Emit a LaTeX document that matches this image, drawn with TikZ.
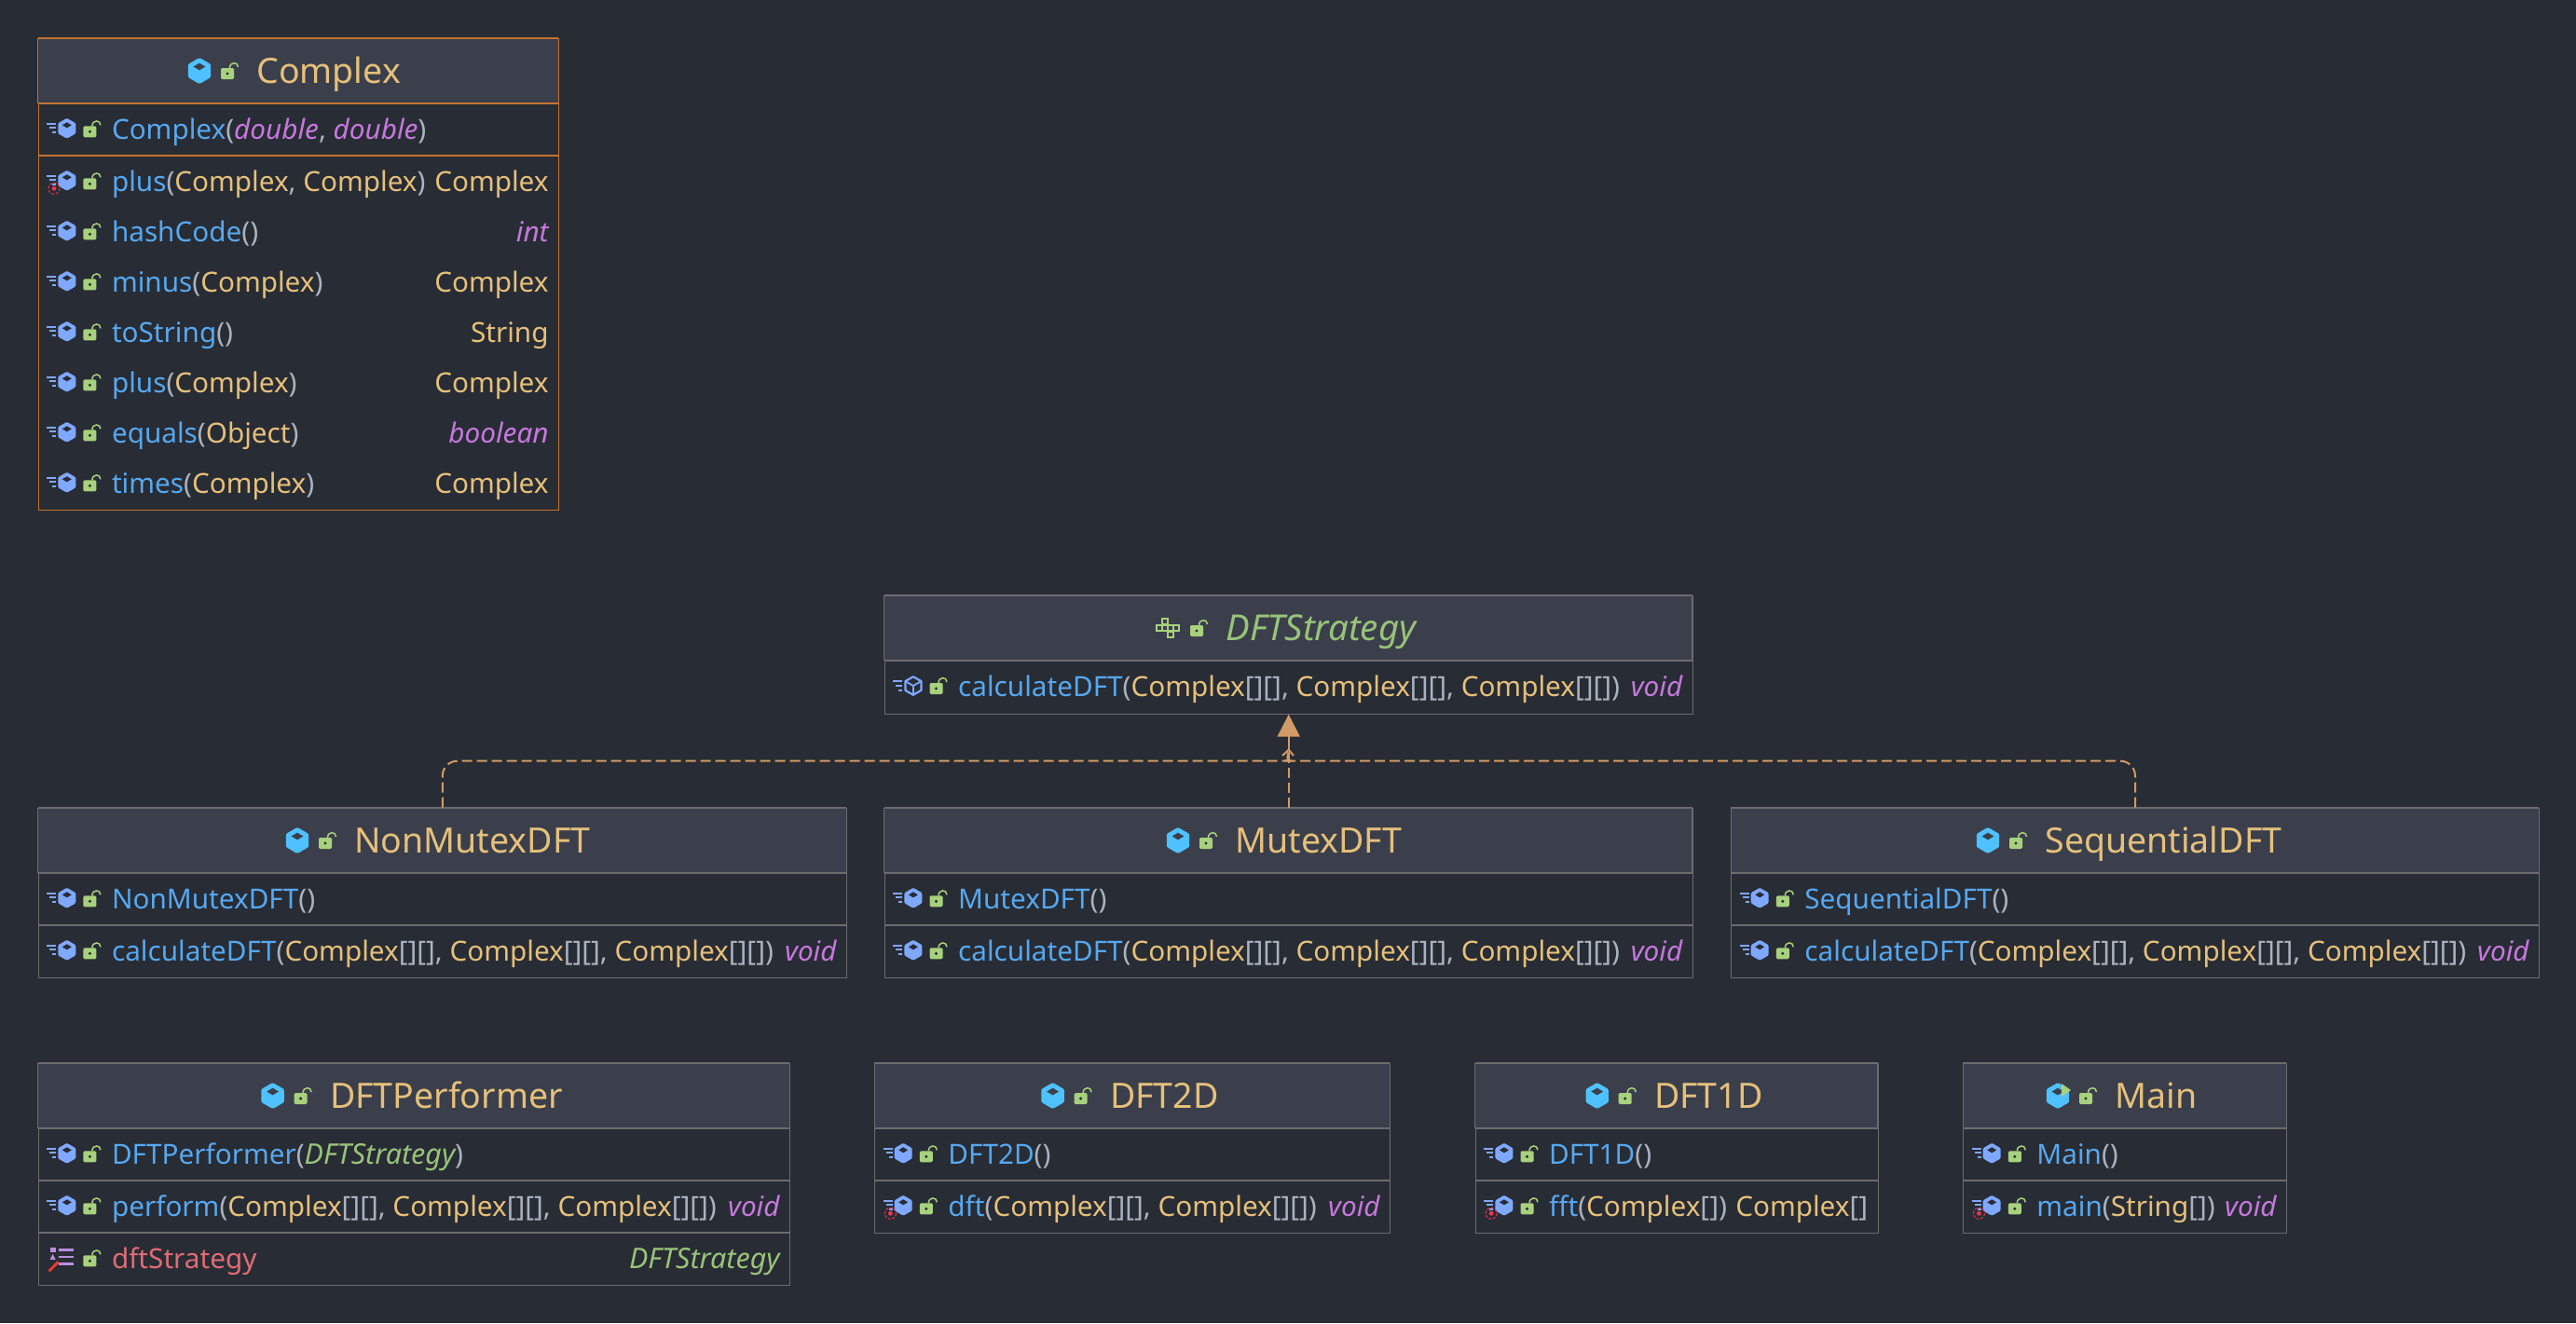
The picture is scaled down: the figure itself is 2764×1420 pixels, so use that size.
\documentclass[tikz,border=0pt]{standalone}
\usepackage{fontspec}
\setmainfont{Noto Sans}
\newfontfamily\ifcfont[Scale=1.025]{Noto Sans}
\usetikzlibrary{arrows.meta,calc}
\definecolor{pagebg}{HTML}{282C34}
\definecolor{titlebg}{HTML}{3B3F4B}
\definecolor{greyline}{HTML}{6A6C70}
\definecolor{orangeline}{HTML}{C4722E}
\definecolor{conn}{HTML}{D19A66}
\definecolor{mth}{HTML}{56A8F0}
\definecolor{typ}{HTML}{E5C07B}
\definecolor{prim}{HTML}{C678DD}
\definecolor{ifc}{HTML}{98C379}
\definecolor{fld}{HTML}{E06C75}
\definecolor{pun}{HTML}{ABB2BF}
\definecolor{hexc}{HTML}{4FC1FF}
\definecolor{hexm}{HTML}{7FA8FF}
\definecolor{lockc}{HTML}{A8D17D}
\definecolor{fieldc}{HTML}{B98EE0}
\definecolor{redc}{HTML}{F0344E}
\definecolor{pencil}{HTML}{EE3B2E}
\newcommand{\Mt}[1]{\textcolor{mth}{#1}}
\newcommand{\Ty}[1]{\textcolor{typ}{#1}}
\newcommand{\Pm}[1]{\textcolor{prim}{\itshape #1}}
\newcommand{\Ifc}[1]{\textcolor{ifc}{\ifcfont\itshape #1}}
\newcommand{\Pu}[1]{\textcolor{pun}{#1}}
\newcommand{\CA}{\Ty{Complex}\Pu{[][]}}
\newcount\tnum
\tikzset{
  umlbox/.style={draw=#1,line width=.5pt,fill=pagebg,inner sep=0pt,anchor=north west},
  memtext/.style={inner sep=0pt,anchor=base west,font=\fontsize{14.85}{16}\selectfont},
  rettext/.style={inner sep=0pt,anchor=base east,font=\fontsize{14.85}{16}\selectfont},
  titletext/.style={inner sep=0pt,anchor=base west,font=\fontsize{18.75}{20}\selectfont},
  dep/.style={draw=conn,line width=1pt,dash pattern=on 5.5pt off 2.5pt},
  depsolid/.style={draw=conn,line width=1pt}
}
% box: name, x, y, w, h, colour, list of separator offsets
\newcommand{\uml}[7]{%
  \node[umlbox=#6,minimum width={#4*.5pt},minimum height={#5*.5pt}] (#1) at (#2,#3) {};
  \fill[titlebg] (#2,#3) rectangle ++(#4,70);
  \draw[#6,line width=1pt] (#2,#3) -- ++(#4,0);
  \draw[#6,line width=.5pt] (#2,#3) -- ++(0,70) (#2+#4,#3) -- ++(0,70);
  \foreach \s in {#7} {\draw[#6,line width=1pt] (#2,#3+\s) -- ++(#4,0);}
}
\newcommand{\hexfill}[2]{% colour, facet colour
  \fill[#1,rounded corners=.6pt] (0,-11) -- (9.5,-5.5) -- (9.5,5.5) -- (0,11) -- (-9.5,5.5) -- (-9.5,-5.5) -- cycle;
  \fill[#2] (0,-6.5) -- (5,-3.5) -- (0,-.5) -- (-5,-3.5) -- cycle;
}
\newcommand{\lockicon}[2]{% x y = body top-left
  \begin{scope}[shift={(#1,#2)}]
    \fill[lockc,rounded corners=.7pt] (0,0) rectangle (14,12);
    \fill[pagebg] (7,6) circle[radius=1.7];
    \draw[lockc,line width=.75pt] (9.5,0) .. controls (9.5,-7) and (18.5,-7) .. (18.5,-1);
  \end{scope}
}
\newcommand{\streaks}{%
  \draw[hexm,line width=1pt] (-21.7,-5) -- ++(10,0) (-18.7,-.5) -- ++(7,0) (-15.7,4.5) -- ++(4,0);
}
% member: box left, baseline, text
\newcommand{\memb}[3]{%
  \begin{scope}[shift={(#1+31.2,#2-11.5)}]
    \hexfill{hexm}{pagebg}\streaks
  \end{scope}
  \lockicon{#1+48.8}{#2-14}
  \global\advance\tnum by 1
  \node[memtext] (t\the\tnum) at (#1+79,#2) {#3};
}
\newcommand{\staticmark}[2]{%
  \draw[redc,line width=.5pt,dash pattern=on 1.5pt off .8pt] (#1+17.4,#2-3) circle[radius=6];
  \fill[redc] (#1+17.4,#2-3) circle[radius=2.4];
}
\newcommand{\rett}[3]{%
  \global\advance\tnum by 1
  \node[rettext] (t\the\tnum) at (#1-10,#2) {#3};
}
% class title: text x, baseline, text
\newcommand{\ctitle}[3]{%
  \global\advance\tnum by 1
  \node[titletext] (t\the\tnum) at (#1-1,#2) {#3};
  \lockicon{#1-39}{#2-16}
}
\newcommand{\hexclass}[2]{%
  \begin{scope}[shift={(#1-62,#2-13)},scale=1.28]
    \hexfill{hexc}{titlebg}
  \end{scope}
}
\begin{document}
\begin{tikzpicture}[x=.5pt,y=-.5pt]
\useasboundingbox (0,0) rectangle (2764,1420);
\fill[pagebg] (0,0) rectangle (2764,1420);

% Complex
\uml{complex}{40.6}{40.7}{558.4}{506.3}{orangeline}{70,126}
\hexclass{276}{89}
\ctitle{276}{89}{\Ty{Complex}}
\memb{40.6}{149.3}{\Mt{Complex}\Pu{(}\Pm{double}\Pu{, }\Pm{double}\Pu{)}}
\memb{40.6}{205.3}{\Mt{plus}\Pu{(}\Ty{Complex}\Pu{, }\Ty{Complex}\Pu{)}}
\staticmark{40.6}{205.3}
\rett{599}{205.3}{\Ty{Complex}}
\memb{40.6}{259.3}{\Mt{hashCode}\Pu{()}}
\rett{599}{259.3}{\Pm{int}}
\memb{40.6}{313.3}{\Mt{minus}\Pu{(}\Ty{Complex}\Pu{)}}
\rett{599}{313.3}{\Ty{Complex}}
\memb{40.6}{367.3}{\Mt{toString}\Pu{()}}
\rett{599}{367.3}{\Ty{String}}
\memb{40.6}{421.3}{\Mt{plus}\Pu{(}\Ty{Complex}\Pu{)}}
\rett{599}{421.3}{\Ty{Complex}}
\memb{40.6}{475.3}{\Mt{equals}\Pu{(}\Ty{Object}\Pu{)}}
\rett{599}{475.3}{\Pm{boolean}}
\memb{40.6}{529.3}{\Mt{times}\Pu{(}\Ty{Complex}\Pu{)}}
\rett{599}{529.3}{\Ty{Complex}}

% DFTStrategy
\uml{strategy}{948.7}{638.7}{867}{127}{greyline}{70}
\foreach \cx/\cy in {1250/667,1244/674,1250/674,1256/674,1262/674,1256/681}{
  \draw[lockc,line width=1.1pt] (\cx-3,\cy-3) rectangle ++(6,6);
}
\ctitle{1316}{687}{\Ifc{DFTStrategy}}
\begin{scope}[shift={(979.9,736)}]
  \draw[hexm,line width=1.1pt,line join=round] (0,-9.8) -- (8.5,-4.9) -- (8.5,4.9) -- (0,9.8) -- (-8.5,4.9) -- (-8.5,-4.9) -- cycle;
  \draw[hexm,line width=.9pt] (-8.5,-4.9) -- (0,0) -- (8.5,-4.9) (0,0) -- (0,9.8);
  \streaks
\end{scope}
\lockicon{997.5}{733}
\global\advance\tnum by 1
\node[memtext] (t\the\tnum) at (1027.7,747.3) {\Mt{calculateDFT}\Pu{(}\CA\Pu{, }\CA\Pu{, }\CA\Pu{)}};
\rett{1815.7}{747.3}{\Pm{void}}

% second row
\uml{nonmutex}{40.6}{866.7}{867.4}{182.3}{greyline}{70,126}
\hexclass{381}{915}
\ctitle{381}{915}{\Ty{NonMutexDFT}}
\memb{40.6}{975.3}{\Mt{NonMutexDFT}\Pu{()}}
\memb{40.6}{1031.3}{\Mt{calculateDFT}\Pu{(}\CA\Pu{, }\CA\Pu{, }\CA\Pu{)}}
\rett{908}{1031.3}{\Pm{void}}

\uml{mutex}{948.7}{866.7}{867}{182.3}{greyline}{70,126}
\hexclass{1326}{915}
\ctitle{1326}{915}{\Ty{MutexDFT}}
\memb{948.7}{975.3}{\Mt{MutexDFT}\Pu{()}}
\memb{948.7}{1031.3}{\Mt{calculateDFT}\Pu{(}\CA\Pu{, }\CA\Pu{, }\CA\Pu{)}}
\rett{1815.7}{1031.3}{\Pm{void}}

\uml{sequential}{1857}{866.7}{867}{182.3}{greyline}{70,126}
\hexclass{2195}{915}
\ctitle{2195}{915}{\Ty{SequentialDFT}}
\memb{1857}{975.3}{\Mt{SequentialDFT}\Pu{()}}
\memb{1857}{1031.3}{\Mt{calculateDFT}\Pu{(}\CA\Pu{, }\CA\Pu{, }\CA\Pu{)}}
\rett{2724}{1031.3}{\Pm{void}}

% bottom row
\uml{performer}{40.6}{1140.7}{806.4}{238.3}{greyline}{70,126,182}
\hexclass{354.6}{1189}
\ctitle{354.6}{1189}{\Ty{DFTPerformer}}
\memb{40.6}{1249.3}{\Mt{DFTPerformer}\Pu{(}\Ifc{DFTStrategy}\Pu{)}}
\memb{40.6}{1305.3}{\Mt{perform}\Pu{(}\CA\Pu{, }\CA\Pu{, }\CA\Pu{)}}
\rett{847}{1305.3}{\Pm{void}}
\begin{scope}[shift={(40.6,1361.3)}]
  \fill[fieldc] (13.5,-22.5) rectangle ++(5.5,5.5);
  \fill[fieldc] (13,-9.5) -- (19,-9.5) -- (16,-15.5) -- cycle;
  \draw[fieldc,line width=1.2pt] (22,-20) -- ++(16,0) (22,-12.5) -- ++(16,0) (22,-5) -- ++(16,0);
  \draw[pencil,line width=1.4pt] (12,3) -- (22,-7);
\end{scope}
\lockicon{89.4}{1347.3}
\global\advance\tnum by 1
\node[memtext] (t\the\tnum) at (119.6,1361.3) {\textcolor{fld}{dftStrategy}};
\rett{847}{1361.3}{\Ifc{DFTStrategy}}

\uml{dfttwo}{938}{1140.7}{553}{182.6}{greyline}{70,126}
\hexclass{1191.6}{1189}
\ctitle{1191.6}{1189}{\Ty{DFT2D}}
\memb{938}{1249.3}{\Mt{DFT2D}\Pu{()}}
\memb{938}{1305.3}{\Mt{dft}\Pu{(}\CA\Pu{, }\CA\Pu{)}}
\staticmark{938}{1305.3}
\rett{1491}{1305.3}{\Pm{void}}

\uml{dftone}{1582.7}{1140.7}{431.8}{182.6}{greyline}{70,126}
\hexclass{1775.7}{1189}
\ctitle{1775.7}{1189}{\Ty{DFT1D}}
\memb{1582.7}{1249.3}{\Mt{DFT1D}\Pu{()}}
\memb{1582.7}{1305.3}{\Mt{fft}\Pu{(}\Ty{Complex}\Pu{[])}}
\staticmark{1582.7}{1305.3}
\rett{2014.5}{1305.3}{\Ty{Complex}\Pu{[]}}

\uml{mainbox}{2106}{1140.7}{347}{182.6}{greyline}{70,126}
\hexclass{2270}{1189}
\fill[lockc] (2212,1163) -- (2222,1170) -- (2212,1177) -- cycle;
\ctitle{2270}{1189}{\Ty{Main}}
\memb{2106}{1249.3}{\Mt{Main}\Pu{()}}
\memb{2106}{1305.3}{\Mt{main}\Pu{(}\Ty{String}\Pu{[])}}
\staticmark{2106}{1305.3}
\rett{2453}{1305.3}{\Pm{void}}

% connectors
\coordinate (hub) at ($(strategy.south)+(0,38)$);
\coordinate (hubL) at (1372,816.7);
\coordinate (hubR) at (1392,816.7);
\coordinate (wingL) at (1376,811);
\coordinate (wingR) at (1388,811);
\draw[dep,rounded corners=8pt] (nonmutex.north) |- (hubL) .. controls (1378,816.7) and (1382,812) .. (hub);
\draw[dep,rounded corners=8pt] (sequential.north) |- (hubR) .. controls (1386,816.7) and (1382,812) .. (hub);
\draw[dep] (mutex.north) -- (hub);
\draw[depsolid] (wingL) -- (hub) -- (wingR);
\draw[depsolid,-{Triangle[length=12pt,width=12pt]}] (hub) -- (strategy.south);
\end{tikzpicture}
\end{document}
